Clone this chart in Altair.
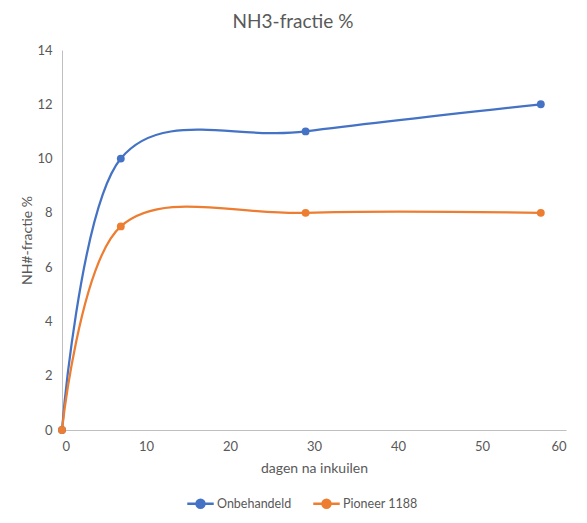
import altair as alt
import pandas as pd

days = [0, 7, 29, 57]
onbehandeld = [0, 10, 11, 12]
pioneer = [0, 7.5, 8, 8]
series_names = ["Onbehandeld", "Pioneer 1188"]
colors = ["#4472C4", "#ED7D31"]

rows = []
for d, v in zip(days, onbehandeld):
    rows.append({"dag": d, "waarde": v, "reeks": series_names[0]})
for d, v in zip(days, pioneer):
    rows.append({"dag": d, "waarde": v, "reeks": series_names[1]})
df = pd.DataFrame(rows)

FONT = "Lato"
GRAY = "#595959"

x = alt.X("dag:Q", title="dagen na inkuilen",
          scale=alt.Scale(domain=[0, 60], nice=False),
          axis=alt.Axis(values=[0, 10, 20, 30, 40, 50, 60], grid=False, ticks=False,
                        domainColor="#BFBFBF", labelColor=GRAY, titleColor=GRAY,
                        labelFontSize=13, titleFontSize=14, labelPadding=10, titlePadding=8,
                        labelFont=FONT, titleFont=FONT, titleFontWeight="normal"))
y = alt.Y("waarde:Q", title="NH#-fractie %",
          scale=alt.Scale(domain=[0, 14], nice=False),
          axis=alt.Axis(values=[0, 2, 4, 6, 8, 10, 12, 14], grid=False, ticks=False,
                        domainColor="#BFBFBF", labelColor=GRAY, titleColor=GRAY,
                        labelFontSize=13, titleFontSize=14, labelPadding=10, titlePadding=2,
                        labelFont=FONT, titleFont=FONT, titleFontWeight="normal"))
color = alt.Color("reeks:N", title=None,
                  scale=alt.Scale(domain=series_names, range=colors),
                  legend=alt.Legend(orient="none", direction="horizontal",
                                    legendX=124, legendY=439,
                                    symbolType="M-1,0H1M-0.3,0A0.3,0.3 0 1,0 0.3,0A0.3,0.3 0 1,0 -0.3,0Z",
                                    symbolSize=700, symbolStrokeWidth=2.5,
                                    labelFont=FONT, labelFontSize=12.5, labelColor=GRAY,
                                    columnPadding=16, labelOffset=2))

base = alt.Chart(df).encode(x=x, y=y, color=color)
lines = base.mark_line(interpolate="cardinal", strokeWidth=2.25)
points = base.mark_point(filled=True, size=62, opacity=1)

chart = alt.layer(lines, points).properties(
    width=504, height=380,
    title=alt.TitleParams("NH3-fractie %", fontSize=19, font=FONT, color=GRAY,
                          fontWeight="normal", anchor="middle", dx=-21, offset=12),
    autosize=alt.AutoSizeParams(type="none"),
    padding={"left": 54, "top": 42, "right": 13, "bottom": 85},
).configure_view(stroke=None)

chart.save("out.html", embed_options={"renderer": "svg", "actions": False})
